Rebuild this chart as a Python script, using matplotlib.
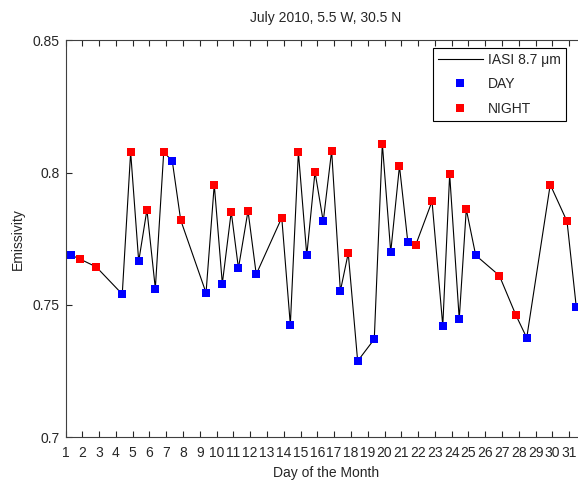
import numpy as np
import matplotlib
matplotlib.use("Agg")
import matplotlib.pyplot as plt

plt.rcParams["font.family"] = ["Liberation Sans", "DejaVu Sans"]

# IASI 8.7 um emissivity retrievals, July 2010 (fractional day of month)
day_time = [1.35, 4.38, 5.36, 6.35, 7.36, 9.37, 10.34, 11.30, 12.36, 14.39,
            15.37, 16.35, 17.37, 18.40, 19.39, 20.37, 21.39, 23.47, 24.45,
            25.43, 28.47, 31.42]
day_emis = [0.7688, 0.7541, 0.7665, 0.7562, 0.8044, 0.7546, 0.7581, 0.7639,
            0.7616, 0.7425, 0.7688, 0.7816, 0.7553, 0.7288, 0.7371, 0.7700,
            0.7737, 0.7421, 0.7447, 0.7688, 0.7376, 0.7493]

night_time = [1.85, 2.83, 4.88, 5.85, 6.85, 7.86, 9.86, 10.87, 11.87, 13.88,
              14.87, 15.86, 16.85, 17.84, 19.87, 20.89, 21.86, 22.83, 23.88,
              24.87, 26.84, 27.83, 29.87, 30.87]
night_emis = [0.7674, 0.7644, 0.8078, 0.7860, 0.8078, 0.7821, 0.7955, 0.7852,
              0.7856, 0.7830, 0.8078, 0.8003, 0.8083, 0.7696, 0.8110, 0.8025,
              0.7727, 0.7892, 0.7994, 0.7862, 0.7611, 0.7461, 0.7955, 0.7816]

days = list(range(1, 32))
yticks = [0.7, 0.75, 0.8, 0.85]
ytick_labels = ["0.7", "0.75", "0.8", "0.85"]

# full time series joins day and night overpasses in order
all_time = np.array(day_time + night_time)
all_emis = np.array(day_emis + night_emis)
order = np.argsort(all_time)

txt = "#262626"
fig = plt.figure(figsize=(5.78, 4.82), dpi=100)
ax = fig.add_axes([65.5 / 578, 44.7 / 482, 520.5 / 578, 396.9 / 482])

ax.plot(all_time[order], all_emis[order], color="black", lw=0.8,
        label="IASI 8.7 μm")
ax.plot(day_time, day_emis, "s", color="#0000ff", ms=5.5, mew=0, label="DAY")
ax.plot(night_time, night_emis, "s", color="#ff0000", ms=5.5, mew=0,
        label="NIGHT")

ax.set_xlim(1, 32)
ax.set_ylim(0.7, 0.85)
ax.set_xticks(days)
ax.set_xticklabels([str(d) for d in days])
ax.set_yticks(yticks)
ax.set_yticklabels(ytick_labels)
ax.tick_params(direction="in", length=4, width=0.8, top=True, right=True,
               labelsize=10, colors=txt, pad=4)
ax.tick_params(axis="x", pad=6)
for s in ax.spines.values():
    s.set_color("#404040")
    s.set_linewidth(0.8)

ax.set_title("July 2010, 5.5 W, 30.5 N", fontsize=10, color=txt, pad=13)
ax.set_xlabel("Day of the Month", fontsize=10, color=txt, labelpad=4.5)
ax.set_ylabel("Emissivity", fontsize=10, color=txt, labelpad=5.5)

leg = ax.legend(loc="upper right", bbox_to_anchor=(566 / 578, 1 - 48 / 482),
                bbox_transform=fig.transFigure, borderaxespad=0,
                fontsize=10, fancybox=False, framealpha=1, edgecolor="black",
                handlelength=3.2, handletextpad=0.4, labelspacing=0.75,
                borderpad=0.35, labelcolor=txt)
leg.get_frame().set_linewidth(0.8)

fig.savefig("out.png", dpi=100)
